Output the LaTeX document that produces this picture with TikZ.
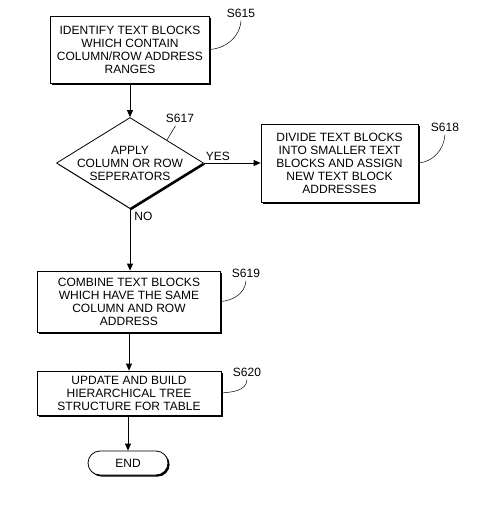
\documentclass[tikz,border=0pt]{standalone}
\usepackage{fontspec}
\setmainfont{Liberation Sans}
\usetikzlibrary{arrows.meta, shapes.geometric, shapes.misc, shadows}

\begin{document}
\begin{tikzpicture}[x = 1pt, y = -1pt,
		every node/.style = {font = \fontsize{12}{13}\selectfont},
		shade box/.style = {draw, fill = white, line width = 0.8pt, align = center, inner sep = 1pt,
			drop shadow = {fill = black, opacity = 1, shadow xshift = 1.6pt, shadow yshift = -1.6pt}},
		flow/.style = {line width = 0.8pt, -{Triangle[length = 7pt, width = 6pt]}},
		leader/.style = {line width = 0.5pt}
	]
	\useasboundingbox (0, 0) rectangle (499, 506);

	\node (s615) at (130, 49.5) [shade box, minimum width = 159pt, minimum height = 67pt]
		{IDENTIFY TEXT BLOCKS\\WHICH CONTAIN\\COLUMN/ROW ADDRESS\\RANGES};
	\node (s617) at (130, 163) [shade box, shape = diamond, aspect = 1.615, inner xsep = -8pt, inner ysep = -3pt,
		minimum width = 147pt, minimum height = 91pt]
		{APPLY\\COLUMN OR ROW\\SEPERATORS};
	\node (s618) at (339.5, 163) [shade box, minimum width = 157pt, minimum height = 78pt]
		{DIVIDE TEXT BLOCKS\\INTO SMALLER TEXT\\BLOCKS AND ASSIGN\\NEW TEXT BLOCK\\ADDRESSES};
	\node (s619) at (129, 301.5) [shade box, minimum width = 183pt, minimum height = 61pt]
		{COMBINE TEXT BLOCKS\\WHICH HAVE THE SAME\\COLUMN AND ROW\\ADDRESS};
	\node (s620) at (129, 393) [shade box, minimum width = 184pt, minimum height = 44pt]
		{UPDATE AND BUILD\\HIERARCHICAL TREE\\STRUCTURE FOR TABLE};
	\node (end) at (128, 463) [shade box, shape = rounded rectangle, minimum width = 82pt, minimum height = 24pt] {END};

	\node (l615) at (241, 13) {S615};
	\node (l617) at (180, 118) {S617};
	\node (l618) at (445, 127) {S618};
	\node (l619) at (246, 273) {S619};
	\node (l620) at (247, 372) {S620};

	\draw[flow] (s615.south -| s617.north) -- (s617.north);
	\draw[flow] (s617.east) -- node (yes) [pos = 0, above right, inner sep = 1.5pt] {YES} (s618.west);
	\draw[flow] (s617.south) -- node (no) [pos = 0.12, right, inner sep = 4pt] {NO} (s617.south |- s619.north);
	\draw[flow] (s619.south -| s620.north) -- (s620.north);
	\draw[flow] (s620.south -| end.north) -- (end.north);

	\draw[leader] (s615.east) to[out = 5, in = -95] (l615.south);
	\draw[leader] (l617.240) -- (s617.north east);
	\draw[leader] (s618.east) to[out = 5, in = -95] (l618.south);
	\draw[leader] (s619.east) to[out = 5, in = -95] (l619.south);
	\draw[leader] (s620.east) to[out = 5, in = -95] (l620.south);
\end{tikzpicture}
\end{document}
